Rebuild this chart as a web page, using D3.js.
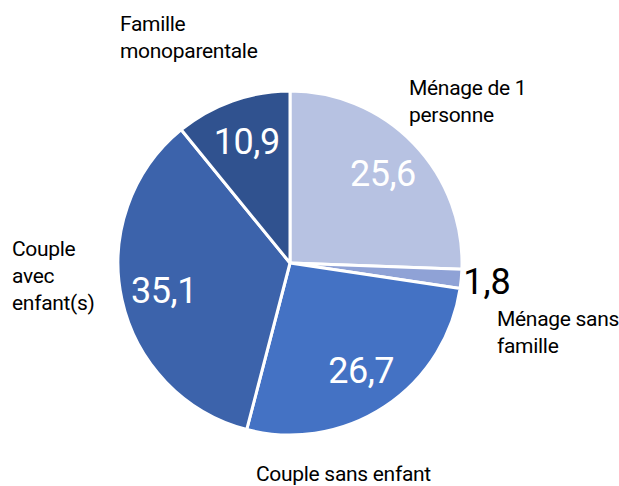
<!DOCTYPE html>
<html>
<head>
<meta charset="utf-8">
<script src="https://cdn.jsdelivr.net/npm/d3@7"></script>
<style>
  body { margin: 0; background: #fff; }
  svg text { font-family: "Roboto", "Liberation Sans Narrow", sans-serif; }
</style>
</head>
<body>
<svg width="619" height="486"></svg>
<script>
// données
const categories = ["Ménage de 1 personne", "Ménage sans famille", "Couple sans enfant", "Couple avec enfant(s)", "Famille monoparentale"];
const values = [25.6, 1.8, 26.7, 35.1, 10.9];
const colors = ["#b7c2e2", "#8fa2d6", "#4472c4", "#3c63ab", "#30528f"];

// lignes des étiquettes de catégorie
const catLines = [["Ménage de 1", "personne"], ["Ménage sans", "famille"], ["Couple sans enfant"], ["Couple", "avec", "enfant(s)"], ["Famille", "monoparentale"]];
const catPos = [[409, 95], [497, 326], [256, 481], [12, 256], [120, 31]];

const width = 619, height = 486;
const cx = 290, cy = 263, radius = 172;

const svg = d3.select("svg");
const g = svg.append("g").attr("transform", `translate(${cx},${cy})`);

const pie = d3.pie().sort(null).value(d => d);
const arcs = pie(values);

const arc = d3.arc().innerRadius(0).outerRadius(radius);
const labelArc = d3.arc().innerRadius(radius * 0.75).outerRadius(radius * 0.75);

g.selectAll("path")
    .data(arcs)
    .enter()
    .append("path")
    .attr("d", arc)
    .attr("fill", (d, i) => colors[i])
    .attr("stroke", "#fff")
    .attr("stroke-width", 3)
    .attr("stroke-linejoin", "round");

// valeurs dans les parts
const fmt = v => String(v).replace(".", ",");
g.selectAll("text.val")
    .data(arcs.filter(d => d.value > 5))
    .enter()
    .append("text")
    .attr("class", "val")
    .attr("transform", d => `translate(${labelArc.centroid(d)})`)
    .attr("text-anchor", "middle")
    .attr("dy", "0.35em")
    .attr("fill", "#fff")
    .attr("font-size", 36)
    .attr("letter-spacing", -0.5)
    .text(d => fmt(d.value));

// petite part : valeur à l'extérieur
const small = arcs.filter(d => d.value <= 5);
const outArc = d3.arc().innerRadius(radius * 1.15).outerRadius(radius * 1.15);
g.selectAll("text.out")
    .data(small)
    .enter()
    .append("text")
    .attr("class", "out")
    .attr("transform", d => `translate(${outArc.centroid(d)})`)
    .attr("text-anchor", "middle")
    .attr("dy", "0.35em")
    .attr("fill", "#000")
    .attr("font-size", 36)
    .text(d => fmt(d.value));

// étiquettes de catégorie
categories.forEach((c, i) => {
    const t = svg.append("text")
        .attr("x", catPos[i][0])
        .attr("y", catPos[i][1])
        .attr("font-size", 21)
        .attr("letter-spacing", -0.3)
        .attr("fill", "#000");
    catLines[i].forEach((line, j) => {
        t.append("tspan")
            .attr("x", catPos[i][0])
            .attr("dy", j === 0 ? 0 : 27)
            .text(line);
    });
});
</script>
</body>
</html>
